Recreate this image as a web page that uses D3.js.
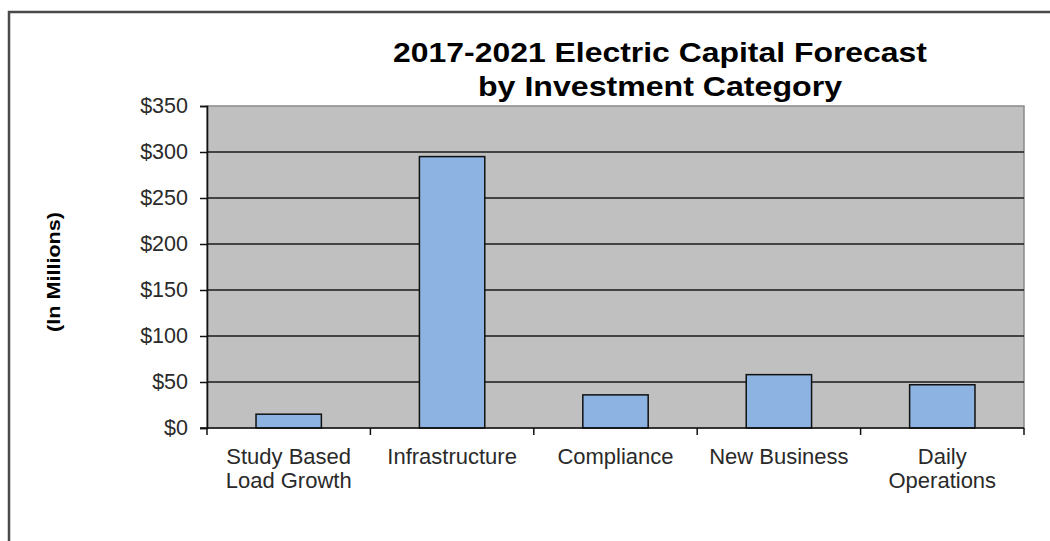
<!DOCTYPE html>
<html>
<head>
<meta charset="utf-8">
<script src="https://cdn.jsdelivr.net/npm/d3@7"></script>
<style>
  html, body { margin: 0; padding: 0; background: #fff; }
  svg { display: block; font-family: "Liberation Sans", Arial, sans-serif; }
</style>
</head>
<body>
<svg id="chart" width="1050" height="541"></svg>
<script>
const categories = [["Study Based", "Load Growth"], ["Infrastructure"], ["Compliance"], ["New Business"], ["Daily", "Operations"]];
const values = [15, 295, 36, 58, 47];
const yTicks = [0, 50, 100, 150, 200, 250, 300, 350];
const titleLines = ["2017-2021 Electric Capital Forecast", "by Investment Category"];
const yTitle = "(In Millions)";

const svg = d3.select("#chart");
const plot = { left: 207, right: 1024, top: 106, bottom: 428 };

// outer frame
svg.append("rect")
  .attr("x", 9).attr("y", 12).attr("width", 1060).attr("height", 560)
  .attr("fill", "none").attr("stroke", "#4a4a4a").attr("stroke-width", 2.5);

const keys = categories.map((c, i) => i);
const x = d3.scaleBand().domain(keys).range([plot.left, plot.right])
  .paddingInner(0.6).paddingOuter(0.3);
const y = d3.scaleLinear().domain([0, 350]).range([plot.bottom, plot.top]);

// plot background
svg.append("rect")
  .attr("x", plot.left).attr("y", plot.top)
  .attr("width", plot.right - plot.left).attr("height", plot.bottom - plot.top)
  .attr("fill", "#c0c0c0").attr("stroke", "#8a8a8a").attr("stroke-width", 1.5);

// gridlines
svg.append("g").selectAll("line").data(yTicks.filter(t => t > 0 && t < 350)).join("line")
  .attr("x1", plot.left).attr("x2", plot.right)
  .attr("y1", d => y(d)).attr("y2", d => y(d))
  .attr("stroke", "#1a1a1a").attr("stroke-width", 1.6);

// bars
svg.append("g").selectAll("rect").data(values).join("rect")
  .attr("x", (d, i) => x(i)).attr("y", d => y(d))
  .attr("width", x.bandwidth()).attr("height", d => y(0) - y(d))
  .attr("fill", "#8db3e2").attr("stroke", "#111").attr("stroke-width", 1.5);

// y axis
const yAxis = d3.axisLeft(y).tickValues(yTicks).tickSize(7).tickPadding(12)
  .tickFormat(d => "$" + d);
const gy = svg.append("g").attr("transform", `translate(${plot.left},0)`).call(yAxis);
gy.select(".domain").attr("stroke", "#111").attr("stroke-width", 1.6);
gy.selectAll(".tick line").attr("stroke", "#111").attr("stroke-width", 1.5);
gy.selectAll(".tick text").attr("font-size", 21.5).attr("fill", "#2a2a2a")
  .attr("font-family", "Liberation Sans, Arial, sans-serif");

// x axis
const boundaries = keys.map(i => x(i) - x.step() * x.paddingInner() / 2).concat([plot.right]);
const gx = svg.append("g");
gx.append("line").attr("x1", plot.left - 7).attr("x2", plot.right)
  .attr("y1", plot.bottom).attr("y2", plot.bottom)
  .attr("stroke", "#111").attr("stroke-width", 1.6);
gx.selectAll("line.tk").data(boundaries).join("line").attr("class", "tk")
  .attr("x1", d => d).attr("x2", d => d)
  .attr("y1", plot.bottom).attr("y2", plot.bottom + 7)
  .attr("stroke", "#111").attr("stroke-width", 1.5);
const labels = gx.selectAll("text").data(categories).join("text")
  .attr("x", (d, i) => x(i) + x.bandwidth() / 2)
  .attr("y", 464)
  .attr("text-anchor", "middle")
  .attr("font-size", 22).attr("fill", "#2a2a2a");
labels.selectAll("tspan").data(d => d).join("tspan")
  .attr("x", function() { return this.parentNode.getAttribute("x"); })
  .attr("dy", (d, j) => j === 0 ? 0 : 24)
  .text(d => d);

// title
svg.append("g").selectAll("text").data(titleLines).join("text")
  .attr("x", 660).attr("y", (d, i) => 62 + i * 34)
  .attr("text-anchor", "middle")
  .attr("font-size", 28).attr("font-weight", "bold").attr("fill", "#000")
  .attr("textLength", (d, i) => i === 0 ? 534 : 364)
  .attr("lengthAdjust", "spacingAndGlyphs")
  .text(d => d);

// y title
svg.append("text")
  .attr("transform", "translate(60,272) rotate(-90)")
  .attr("text-anchor", "middle")
  .attr("font-size", 18).attr("font-weight", "bold").attr("fill", "#000")
  .attr("textLength", 120).attr("lengthAdjust", "spacingAndGlyphs")
  .text(yTitle);
</script>
</body>
</html>
